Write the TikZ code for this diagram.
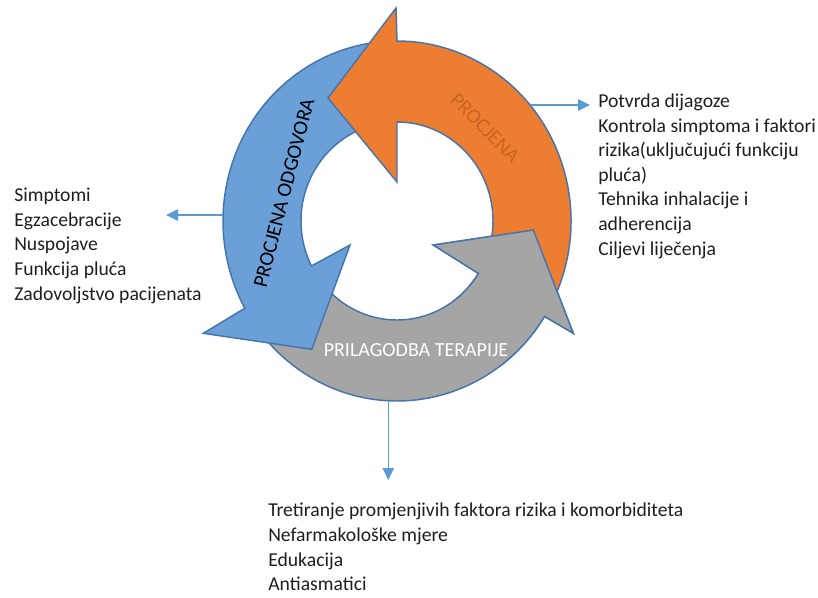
\documentclass[tikz,border=0pt]{standalone}
\usepackage{fontspec}
\setmainfont{Carlito}
\usetikzlibrary{arrows.meta,calc}
\definecolor{orangeF}{HTML}{ED7D31}
\definecolor{grayF}{HTML}{A5A5A5}
\definecolor{blueF}{HTML}{6A9FD8}
\definecolor{edgeC}{HTML}{4674AD}
\definecolor{connC}{HTML}{5B9BD5}
\definecolor{procT}{HTML}{C8641F}
\definecolor{txtC}{HTML}{1E1E1E}
\begin{document}
\begin{tikzpicture}[x=0.75pt,y=0.75pt,
  arrowshape/.style={draw=edgeC, line width=1.1pt, line join=miter},
  conn/.style={draw=connC, line width=1.1pt, -{Triangle[length=9pt,width=8.5pt]}},
  txt/.style={font=\fontsize{14.75}{18.45}\selectfont, align=left, anchor=base west, inner sep=0pt, text=txtC},
  lbl/.style={font=\fontsize{15}{18}\selectfont, inner sep=0pt}]
\useasboundingbox (0,0) rectangle (818,-597);
\coordinate (C) at (397,-221);
% gray arrow (bottom)
\path[arrowshape, fill=grayF] ($(C)+(215:174 and 180)$) arc[start angle=215,end angle=328,x radius=174,y radius=180]
  -- (573.3,-333.3) -- (533.3,-230) -- (433.3,-245) -- ($(C)+(328:96 and 99)$)
  arc[start angle=328,end angle=215,x radius=96,y radius=99] -- cycle;
% blue arrow (left)
\path[arrowshape, fill=blueF] ($(C)+(95:174 and 180)$) arc[start angle=95,end angle=209,x radius=174,y radius=180]
  -- (203.3,-333.3) -- (311.7,-349.3) -- (350,-245) -- ($(C)+(207:96 and 99)$)
  arc[start angle=207,end angle=95,x radius=96,y radius=99] -- cycle;
% orange arrow (right/top)
\path[arrowshape, fill=orangeF] ($(C)+(-26:174 and 180)$) arc[start angle=-26,end angle=90,x radius=174,y radius=180]
  -- (396,-8) -- (328,-98) -- (397,-182) -- ($(C)+(90:96 and 99)$)
  arc[start angle=90,end angle=-26,x radius=96,y radius=99] -- cycle;
% gray arrow head again, above the orange tail
\begin{scope}
\clip (C) -- ($(C)+(-55:320)$) -- ($(C)+(20:320)$) -- cycle;
\path[arrowshape, fill=grayF] ($(C)+(215:174 and 180)$) arc[start angle=215,end angle=328,x radius=174,y radius=180]
  -- (573.3,-333.3) -- (533.3,-230) -- (433.3,-245) -- ($(C)+(328:96 and 99)$)
  arc[start angle=328,end angle=215,x radius=96,y radius=99] -- cycle;
\end{scope}
% labels in the arrows
\node[lbl, text=procT, rotate=-45, font=\fontsize{15.5}{18}\selectfont] (lproc) at (485,-128) {PROCJENA};
\node[lbl, text=black, rotate=75.6, font=\fontsize{15.5}{18}\selectfont] (lodg) at (284,-193) {PROCJENA ODGOVORA};
\node[lbl, text=white] (lter) at (416,-350) {PRILAGODBA TERAPIJE};
% text blocks (anchor = baseline of the last line)
\node[txt] (ltxt) at (14,-300) {Simptomi\\Egzacebracije\\Nuspojave\\Funkcija pluća\\Zadovoljstvo pacijenata};
\node[txt] (rtxt) at (598,-255) {Potvrda dijagoze\\Kontrola simptoma i faktori\\rizika(uključujući funkciju\\pluća)\\Tehnika inhalacije i\\adherencija\\Ciljevi liječenja};
\node[txt] (btxt) at (268,-590.7) {Tretiranje promjenjivih faktora rizika i komorbiditeta\\Nefarmakološke mjere\\Edukacija\\Antiasmatici};
% connectors
\coordinate (lfrom) at (223,-215);
\coordinate (lto) at (166,-215);
\coordinate (rfrom) at (530,-105);
\coordinate (rto) at (590,-105);
\coordinate (bfrom) at (388.3,-400.7);
\coordinate (bto) at (388.3,-480);
\draw[conn] (lfrom) -- (lto);
\draw[conn] (rfrom) -- (rto);
\draw[conn] (bfrom) -- (bto);
\end{tikzpicture}
\end{document}
